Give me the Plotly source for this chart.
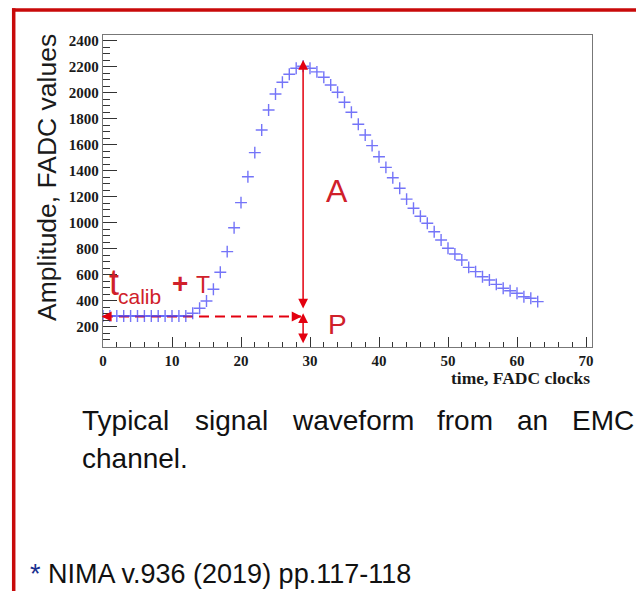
import plotly.graph_objects as go

# ---- data -------------------------------------------------------------
time_clk = list(range(64))
amplitude = [
    282, 282, 282, 282, 282, 282, 282, 282, 282, 282, 282, 282, 282,
    303, 342, 398, 488, 619, 778, 962, 1155, 1355, 1540, 1715, 1869,
    1992, 2082, 2144, 2190, 2205, 2190, 2162, 2121, 2061, 2005, 1928,
    1851, 1759, 1676, 1594, 1509, 1427, 1347, 1266, 1182, 1112, 1050,
    996, 931, 868, 804, 760, 714, 657, 624, 585, 560, 526, 496, 477,
    457, 431, 419, 393,
]

# reference levels used by the annotation arrows
pedestal = 278          # P level (dashed line)
peak_time = 29          # time of the maximum
peak_top = 2254         # top of the amplitude arrow
a_bottom = 328          # lower end of the amplitude arrow
p_top = 315             # upper end of the pedestal arrow
p_bottom = 72           # lower end of the pedestal arrow

x_range = [0, 70.87]
y_range = [43.7, 2446]

W, H = 636, 591
RED_TXT = "#d0202a"
RED_ARR = "#e3000f"
FRAME_RED = "#c80a0a"


def px(x):
    return x / W


def py(y):
    return 1 - y / H


fig = go.Figure()

fig.add_trace(go.Scatter(
    x=time_clk, y=amplitude, mode="markers",
    marker=dict(symbol="cross-thin", size=8.5,
                line=dict(width=1.4, color="rgba(70,70,245,0.75)")),
    showlegend=False, hoverinfo="skip",
))

axis_font = dict(family="Liberation Serif", size=15, color="#1a1a1a", weight="bold")

fig.update_layout(
    template="none",
    width=W, height=H, autosize=False,
    margin=dict(l=0, r=0, t=0, b=0, pad=0),
    paper_bgcolor="white", plot_bgcolor="white",
    xaxis=dict(
        domain=[px(103), px(592)], range=x_range, automargin=False,
        tick0=0, dtick=10, ticks="inside", ticklen=10, tickwidth=1, tickcolor="#333",
        minor=dict(dtick=2, ticks="inside", ticklen=5, tickcolor="#333", showgrid=False),
        showgrid=False, zeroline=False, showline=True, linecolor="#777",
        linewidth=1.4, mirror=True, tickfont=axis_font,
    ),
    yaxis=dict(
        domain=[py(347), py(35)], range=y_range, automargin=False,
        tick0=0, dtick=200, ticks="inside", ticklen=14, tickwidth=1, tickcolor="#333",
        minor=dict(dtick=50, ticks="inside", ticklen=7, tickcolor="#333", showgrid=False),
        showgrid=False, zeroline=False, showline=True, linecolor="#777",
        linewidth=1.4, mirror=True, tickfont=axis_font,
    ),
)

shapes = [
    # slide border
    dict(type="line", xref="paper", yref="paper", x0=px(12), x1=1, y0=py(10), y1=py(10),
         line=dict(color=FRAME_RED, width=3.5)),
    dict(type="line", xref="paper", yref="paper", x0=px(13.7), x1=px(13.7), y0=py(8.3), y1=0,
         line=dict(color=FRAME_RED, width=3.5)),
    # dashed pedestal line
    dict(type="line", xref="x", yref="y", x0=0, x1=peak_time - 0.3, y0=pedestal, y1=pedestal,
         line=dict(color=RED_ARR, width=2, dash="10px,6px"), layer="below"),
]
fig.update_layout(shapes=shapes)

ann = []
# amplitude arrow (A)
ann.append(dict(x=peak_time, y=peak_top, ax=peak_time, ay=a_bottom, xref="x", yref="y",
                axref="x", ayref="y", text="", showarrow=True, arrowhead=2,
                arrowside="end+start", arrowwidth=1.5, arrowsize=1.3,
                arrowcolor=RED_ARR, standoff=0, startstandoff=0))
# pedestal arrow (P)
ann.append(dict(x=peak_time, y=p_bottom, ax=peak_time, ay=p_top, xref="x", yref="y",
                axref="x", ayref="y", text="", showarrow=True, arrowhead=2,
                arrowside="end+start", arrowwidth=1.5, arrowsize=1.3,
                arrowcolor=RED_ARR, standoff=0, startstandoff=0))
# heads of the dashed time arrow
ann.append(dict(x=-0.2, y=pedestal, ax=1.3, ay=pedestal, xref="x", yref="y",
                axref="x", ayref="y", text="", showarrow=True, arrowhead=2,
                arrowwidth=2, arrowsize=1, arrowcolor=RED_ARR, standoff=0))
ann.append(dict(x=28.8, y=pedestal, ax=27.3, ay=pedestal, xref="x", yref="y",
                axref="x", ayref="y", text="", showarrow=True, arrowhead=2,
                arrowwidth=2, arrowsize=1, arrowcolor=RED_ARR, standoff=0))


def label(text, x, y, size, color="#111", family="Liberation Sans", weight="normal",
          xanchor="center", angle=0):
    return dict(text=text, x=px(x), y=py(y), xref="paper", yref="paper",
                xanchor=xanchor, yanchor="middle", showarrow=False, textangle=angle,
                font=dict(family=family, size=size, color=color, weight=weight))


ann += [
    label("A", 337, 191, 32, RED_TXT),
    label("P", 337.5, 325, 28, RED_TXT),
    label("t", 114, 282, 36, RED_TXT),
    label("calib", 139, 296, 21, RED_TXT),
    label("+", 179.5, 283, 28, RED_TXT, weight="bold"),
    label("T", 202.5, 285, 23, RED_TXT),
    label("Amplitude, FADC values", 47, 178, 26.5, "#1a1a1a", angle=-90),
    label("time, FADC clocks", 592, 377.5, 17.5, "#1a1a1a", family="Liberation Serif",
          weight="bold", xanchor="right"),
]

# caption, justified across the slide
caption_words = ["Typical", "signal", "waveform", "from", "an", "EMC"]
caption_left = [80, 192.6, 289.6, 434.9, 514.8, 569.8]
for w, xl in zip(caption_words, caption_left):
    ann.append(label(w, xl, 420, 28, "#111", xanchor="left"))
ann.append(label("channel.", 80, 458, 28, "#111", xanchor="left"))

ann.append(label("<span style='color:#1a2f8f'>*</span> NIMA v.936 (2019) pp.117-118",
                 28, 574, 27, "#111", xanchor="left"))

fig.update_layout(annotations=ann)

fig.write_html("out.html")
